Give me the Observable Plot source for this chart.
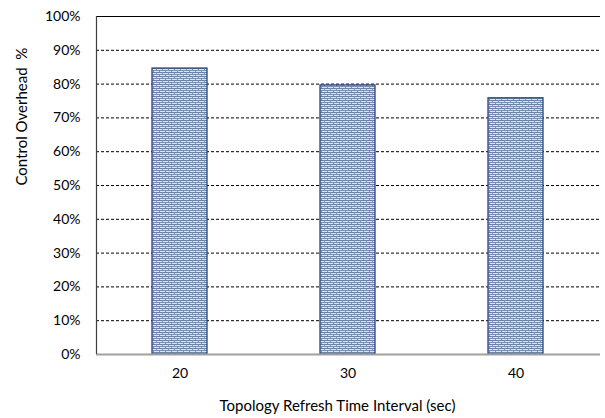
<!DOCTYPE html>
<html><head><meta charset="utf-8">
<script src="https://cdn.jsdelivr.net/npm/d3@7"></script>
<script src="https://cdn.jsdelivr.net/npm/@observablehq/plot@0.6"></script>
<style>
body{margin:0;background:#fff;}
#chart{position:relative;width:605px;height:418px;}
</style>
</head><body><div id="chart"></div>
<script>
const categories = ["20", "30", "40"];
const overhead = [0.846, 0.796, 0.758];
const yTicks = [0, 0.1, 0.2, 0.3, 0.4, 0.5, 0.6, 0.7, 0.8, 0.9, 1.0];
const gridTicks = [0.1, 0.2, 0.3, 0.4, 0.5, 0.6, 0.7, 0.8, 0.9];
const xTitle = "Topology Refresh Time Interval (sec)";
const yTitle = "Control Overhead  %";

const data = categories.map((c, i) => ({cat: c, v: overhead[i]}));
const font = "Lato, 'Open Sans', sans-serif";

const plot = Plot.plot({
  width: 605, height: 418,
  marginLeft: 96, marginRight: 5, marginTop: 16, marginBottom: 64,
  style: {fontFamily: font, fontSize: "14px", color: "#000", background: "#fff"},
  x: {domain: categories, paddingInner: 0.672, paddingOuter: 0.336, label: null, tickSize: 0, tickPadding: 14},
  y: {domain: [0, 1], ticks: yTicks, tickFormat: d => Math.round(d * 100) + "%", label: null, tickSize: 0, tickPadding: 16},
  marks: [
    Plot.ruleY(gridTicks, {stroke: "#000", strokeDasharray: "3,2", strokeWidth: 1}),
    Plot.ruleY([1], {stroke: "#000", strokeWidth: 1.2}),
    Plot.barY(data, {x: "cat", y: "v", fill: "url(#brick)", stroke: "#2a4573", strokeWidth: 1.3}),
    Plot.ruleY([0], {stroke: "#a0a0a0", strokeWidth: 2}),
    Plot.axisY({ticks: yTicks, tickFormat: d => Math.round(d * 100) + "%", tickSize: 0, tickPadding: 16, label: null, fontSize: 14}),
    Plot.axisX({tickSize: 0, tickPadding: 14, label: null, fontSize: 14}),
    Plot.text([xTitle], {frameAnchor: "bottom", dy: 56, dx: -11, fontSize: 15, fill: "#000"}),
    Plot.text([yTitle], {frameAnchor: "left", dx: -74, rotate: -90, fontSize: 15, fill: "#000"})
  ]
});

// left axis line
const svg = d3.select(plot);
svg.append("line").attr("x1", 96.5).attr("x2", 96.5).attr("y1", 16).attr("y2", 354).attr("stroke", "#404040").attr("stroke-width", 1.2);

const defs = svg.insert("defs", ":first-child");
const pat = defs.append("pattern").attr("id", "brick").attr("patternUnits", "userSpaceOnUse")
  .attr("width", 6).attr("height", 4);
pat.append("rect").attr("width", 6).attr("height", 4).attr("fill", "#dce3ee");
pat.append("rect").attr("x", 0).attr("y", 0).attr("width", 6).attr("height", 1).attr("fill", "#6a80a6");
pat.append("rect").attr("x", 0).attr("y", 2).attr("width", 6).attr("height", 1).attr("fill", "#7a8fb2");
pat.append("rect").attr("x", 0).attr("y", 0).attr("width", 1).attr("height", 2).attr("fill", "#7a8fb2");
pat.append("rect").attr("x", 3).attr("y", 2).attr("width", 1).attr("height", 2).attr("fill", "#7a8fb2");

document.getElementById("chart").appendChild(plot);
</script>
</body></html>
